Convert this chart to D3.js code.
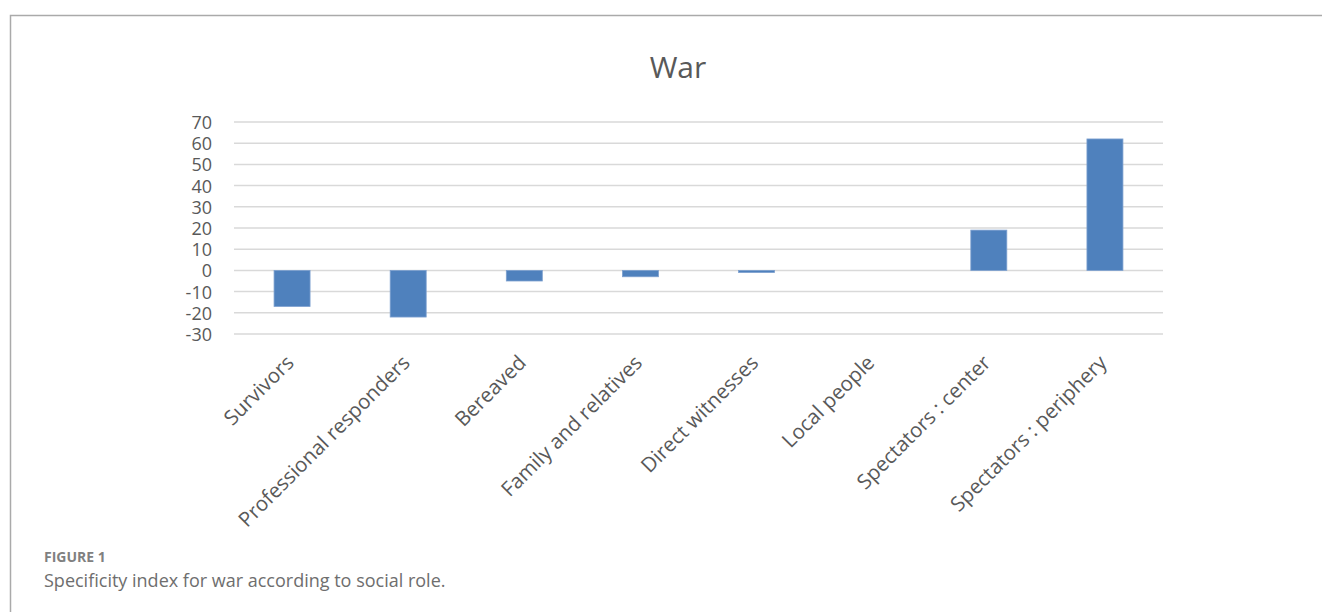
<!DOCTYPE html>
<html><head><meta charset="utf-8">
<script src="https://cdn.jsdelivr.net/npm/d3@7"></script>
<style>
html,body{margin:0;padding:0;background:#fff;}
svg{display:block;font-family:"Open Sans",sans-serif;}
</style></head>
<body>
<svg id="chart" width="1322" height="612"></svg>
<script>
const categories = ["Survivors","Professional responders","Bereaved","Family and relatives","Direct witnesses","Local people","Spectators : center","Spectators : periphery"];
const values = [-17, -22, -5, -3, -1, 0, 19, 62];
const yTicks = [70,60,50,40,30,20,10,0,-10,-20,-30];
const title = "War";
const figLabel = "FIGURE 1";
const caption = "Specificity index for war according to social role.";

const svg = d3.select("#chart");
// frame
svg.append("path").attr("d","M10.5,612 L10.5,15.5 L1322,15.5").attr("fill","none").attr("stroke","#aaa").attr("stroke-width",1.5);

const x = d3.scaleBand().domain(categories).range([234,1163]).paddingInner(0.69).paddingOuter(0.345);
const y = d3.scaleLinear().domain([-30,70]).range([334,122]);

// gridlines
svg.append("g").selectAll("line").data(yTicks).join("line")
  .attr("x1",234).attr("x2",1163)
  .attr("y1",d=>y(d)).attr("y2",d=>y(d))
  .attr("stroke","#d9d9d9").attr("stroke-width",1.5);

// y axis labels
const yAxis = d3.axisLeft(y).tickValues(yTicks).tickSize(0).tickPadding(0).tickFormat(d=>String(d));
const yg = svg.append("g").attr("transform","translate(212,0)").call(yAxis);
yg.select(".domain").remove();
yg.selectAll("text").attr("font-size",18).attr("fill","#595959").attr("font-family","Open Sans").attr("dy","0.36em");

// bars
svg.append("g").selectAll("rect").data(values).join("rect")
  .attr("x",(d,i)=>x(categories[i]))
  .attr("width",x.bandwidth())
  .attr("y",d=>y(Math.max(0,d)))
  .attr("height",d=>Math.abs(y(d)-y(0)))
  .attr("fill","#4f81bd").attr("stroke","#7da0cf").attr("stroke-width",0.8);

// category labels
svg.append("g").selectAll("text").data(categories).join("text")
  .attr("transform",d=>`translate(${x(d)+x.bandwidth()/2+3},364) rotate(-45)`)
  .attr("text-anchor","end")
  .attr("font-size",20.5).attr("fill","#595959")
  .text(d=>d);

// title
svg.append("text").attr("x",678).attr("y",78).attr("text-anchor","middle")
  .attr("font-size",30).attr("fill","#595959").text(title);

// caption
svg.append("text").attr("x",44).attr("y",562).attr("font-size",14).attr("font-weight",700)
  .attr("fill","#808080").text(figLabel);
svg.append("text").attr("x",44).attr("y",587).attr("font-size",18)
  .attr("fill","#6e6e6e").text(caption);
</script>
</body></html>
